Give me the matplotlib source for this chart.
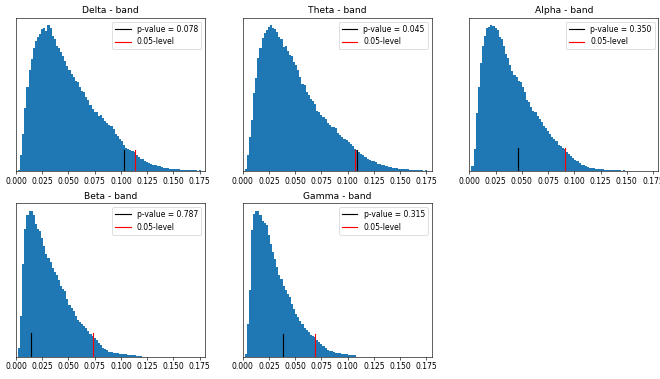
import numpy as np
import matplotlib
matplotlib.use("Agg")
import matplotlib.pyplot as plt

# Permutation distributions of the test statistic per frequency band,
# binned at 0.002 starting from 0.002 (relative counts).
delta_counts = [0.9, 10.7, 25.5, 42.5, 57.3, 68.6, 76, 83.4, 88.4, 90.7,
                93, 96, 96.6, 94.8, 98.9, 97, 91.4, 89.5, 84.5, 83.4,
                80.5, 77.7, 74.8, 71.4, 68.6, 65.7, 64, 61, 60.2, 57.3,
                54.3, 53.4, 50.5, 48.2, 44.8, 42, 39.8, 39.8, 37.5, 38,
                36.1, 34.1, 32.3, 31.5, 30.7, 28.4, 25.5, 23.6, 22, 20.2,
                17.5, 15.9, 15.2, 14.5, 13.6, 13, 10.7, 9.5, 8.4, 8,
                6.8, 6.1, 5.7, 5.2, 4.3, 3.9, 3.6, 3.2, 2.7, 2.5,
                2.3, 2.0, 1.8, 1.8, 1.6, 1.4, 1.4, 1.1, 1.1, 0.9,
                0.9, 0.7, 0.7, 0.6, 0.5, 0.4, 0.9]
theta_counts = [1.6, 10.7, 23.2, 34.5, 52.7, 63, 76.6, 83.4, 90.2, 93.4,
                95.2, 97.5, 98.9, 96.6, 96.1, 94.3, 90.7, 89.1, 83.9, 84.5,
                81.1, 78.9, 77.7, 73.9, 72, 68.6, 64, 58.9, 58, 53.4,
                51.6, 48.6, 47.7, 45.2, 40.7, 39.8, 38, 36.8, 35.2, 32.3,
                31.1, 30, 29.8, 29.3, 26.1, 24.3, 23, 22, 20.9, 19.8,
                18.6, 17, 15.2, 14.1, 13, 11.6, 10.7, 9.5, 8.4, 7.7,
                7, 6.6, 5.9, 5.2, 4.8, 4.3, 3.9, 3.4, 3, 2.7,
                2.5, 2.3, 2, 1.8, 1.6, 1.6, 1.4, 1.4, 1.1, 1.1,
                0.9, 0.9, 0.7, 0.7, 0.5, 0.4, 0.6]
alpha_counts = [3.2, 15.2, 39.1, 57.3, 73.2, 84.5, 91.4, 96.6, 97.5, 98.9,
                98, 97, 95.2, 90.7, 89.1, 84.5, 79.3, 76.6, 72, 67.5,
                65.2, 63.9, 61.1, 60.2, 57.3, 53.4, 48.2, 46.6, 43.6, 40.9,
                39.8, 37.3, 35, 33, 30.7, 28.9, 27, 25.5, 23.2, 21.6,
                20.2, 18, 17, 15.7, 14.8, 13, 11.8, 10.2, 8.9, 7.7,
                6.6, 5.5, 4.5, 3.9, 3.2, 2.7, 2.5, 2.3, 2, 1.8,
                1.6, 1.4, 1.4, 1.1, 1.1, 0.9, 0.9, 0.7, 0.7, 0.6,
                0.5, 0.4, 0.6, 0.2]
beta_counts = [5.7, 27.4, 62.8, 86.8, 95.9, 98.6, 99.1, 96.3, 90.2, 86.3,
               84.9, 80.4, 74.9, 69.6, 66.7, 64.4, 60.3, 57.5, 55.5, 52.1,
               47.9, 45.7, 44.3, 38.8, 34.9, 33.1, 30.8, 27.9, 25.1, 23.7,
               22.4, 21, 19.4, 17.1, 15.5, 14.2, 12.6, 11, 9.6, 8,
               6.2, 5, 4.3, 3.4, 3, 2.7, 2.5, 2.3, 2, 1.8,
               1.8, 1.6, 1.4, 1.1, 0.9, 0.9, 0.7, 0.5, 0.4]
gamma_counts = [2, 22, 45, 85.6, 96.3, 98.6, 98.6, 95.4, 91.3, 90,
                88.6, 82.2, 75.8, 70.8, 66.2, 60.5, 55.3, 52.1, 47.9, 45,
                42.2, 40, 35.4, 32.4, 28.8, 26.9, 24, 21.9, 19.6, 18,
                16.4, 14.8, 14.2, 13.2, 11, 9.6, 8.9, 7.5, 6.2, 4.8,
                4.1, 3.7, 3.2, 2.7, 2.5, 2.3, 1.8, 1.8, 1.6, 1.4,
                1.4, 1.1, 0.9]

bands = ["Delta", "Theta", "Alpha", "Beta", "Gamma"]
band_counts = [delta_counts, theta_counts, alpha_counts, beta_counts, gamma_counts]
observed_stat = [0.1025, 0.1092, 0.0465, 0.0143, 0.0381]
level_05 = [0.1130, 0.1071, 0.0915, 0.0736, 0.0688]
p_values = [0.078, 0.045, 0.350, 0.787, 0.315]

BIN_WIDTH = 0.002
FIRST_EDGE = 0.002

# height of the marker lines as a fraction of each axes
marker_height = [0.137, 0.137, 0.148, 0.152, 0.148]

fig = plt.figure(figsize=(12, 379 / 55), dpi=55)
axes = fig.subplots(2, 3)
fig.subplots_adjust(left=0.0242, right=0.9975, bottom=0.0588, top=0.9533,
                    wspace=0.1995, hspace=0.2085)

for i, ax in enumerate(axes.flat[:5]):
    counts = np.asarray(band_counts[i], dtype=float)
    edges = FIRST_EDGE + BIN_WIDTH * np.arange(len(counts) + 1)
    centers = 0.5 * (edges[:-1] + edges[1:])
    ax.hist(centers, bins=edges, weights=counts, color="C0")
    ax.axvline(observed_stat[i], ymax=marker_height[i], color="black",
               label=f"p-value = {p_values[i]:.3f}")
    ax.axvline(level_05[i], ymax=marker_height[i], color="red",
               label="0.05-level")
    ax.set_title(f"{bands[i]} - band")
    ax.set_xlim(0, 0.18)
    ax.set_xticks(np.arange(0, 0.176, 0.025))
    ax.set_yticks([])
    ax.legend(loc="upper right")

axes.flat[5].remove()

fig.savefig("out.png", dpi=55)
